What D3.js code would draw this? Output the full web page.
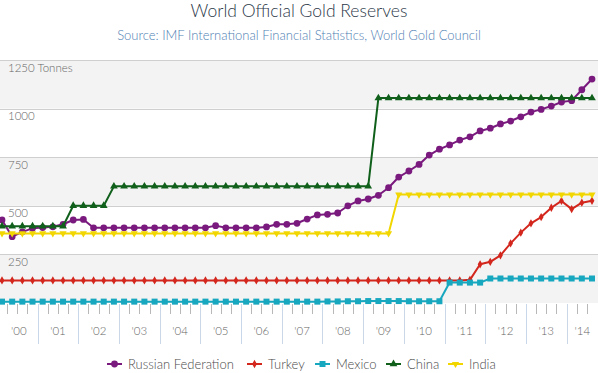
<!DOCTYPE html>
<head>
<meta charset="utf-8">
<title>World Official Gold Reserves</title>
<script src="https://d3js.org/d3.v7.min.js"></script>
<style>
  body { margin: 0; background: #fff; }
  text { font-family: Lato, "Open Sans", sans-serif; font-weight: 300; }
</style>
</head>
<body>
<div id="chart"></div>
<script>

// quarterly values, 2000 Q1 .. 2014 Q3 (tonnes)
var years = ["'00","'01","'02","'03","'04","'05","'06","'07","'08","'09","'10","'11","'12","'13","'14"];
var yTicks = [250, 500, 750, 1000, 1250];

var russia = [427, 341, 366, 384, 388, 392, 405, 427, 430, 387,
              387, 387, 387, 387, 387, 387, 387, 387, 387, 387,
              387, 398, 387, 387, 387, 387, 391, 405, 405, 410,
              432, 453, 456, 463, 500, 525, 535, 554, 593, 648,
              679, 713, 761, 791, 813, 838, 855, 885, 899, 921,
              936, 958, 982, 996, 1013, 1034, 1041, 1097, 1152];
var turkey = [116, 116, 116, 116, 116, 116, 116, 116, 116, 116,
              116, 116, 116, 116, 116, 116, 116, 116, 116, 116,
              116, 116, 116, 116, 116, 116, 116, 116, 116, 116,
              116, 116, 116, 116, 116, 116, 116, 116, 116, 116,
              116, 116, 116, 116, 116, 116, 119, 199, 212, 245,
              307, 362, 410, 442, 490, 525, 483, 516, 526];
var mexico = [7, 7, 7, 7, 7, 7, 7, 7, 7, 7,
              7, 7, 7, 7, 7, 7, 7, 7, 7, 7,
              7, 7, 7, 7, 7, 7, 7, 7, 7, 7,
              7, 7, 8, 8, 9, 9, 10, 10, 10, 10,
              9, 9, 9, 9, 105, 105, 105, 105, 126, 126,
              126, 126, 126, 126, 126, 126, 126, 126, 126];
var china = [395, 395, 395, 395, 395, 395, 395, 500, 500, 500,
             500, 600, 600, 600, 600, 600, 600, 600, 600, 600,
             600, 600, 600, 600, 600, 600, 600, 600, 600, 600,
             600, 600, 600, 600, 600, 600, 600, 1054, 1054, 1054,
             1054, 1054, 1054, 1054, 1054, 1054, 1054, 1054, 1054, 1054,
             1054, 1054, 1054, 1054, 1054, 1054, 1054, 1054, 1054];
var india = [358, 358, 358, 358, 358, 358, 358, 358, 358, 358,
             358, 358, 358, 358, 358, 358, 358, 358, 358, 358,
             358, 358, 358, 358, 358, 358, 358, 358, 358, 358,
             358, 358, 358, 358, 358, 358, 358, 358, 358, 558,
             558, 558, 558, 558, 558, 558, 558, 558, 558, 558,
             558, 558, 558, 558, 558, 558, 558, 558, 558];

var names = ["Russian Federation", "Turkey", "Mexico", "China", "India"];

var series = [
  {name: names[0], values: russia, color: "#7a1a7e", symbol: "circle"},
  {name: names[1], values: turkey, color: "#d3261d", symbol: "diamond"},
  {name: names[2], values: mexico, color: "#17a7bf", symbol: "square"},
  {name: names[3], values: china,  color: "#10601c", symbol: "triangle"},
  {name: names[4], values: india,  color: "#f2d600", symbol: "triangle-down"}
];

var width = 598, height = 373;

var svg = d3.select("#chart").append("svg")
    .attr("width", width)
    .attr("height", height);

var x = d3.scaleLinear().domain([0, 58]).range([2, 592]);
var y = d3.scaleLinear().domain([0, 1250]).range([303, 60]);

// alternating bands
var bands = [[0, 250], [500, 750], [1000, 1250]];
svg.append("g").selectAll("rect")
  .data(bands)
  .enter().append("rect")
    .attr("x", 0)
    .attr("width", width)
    .attr("y", function(d) { return y(d[1]); })
    .attr("height", function(d) { return y(d[0]) - y(d[1]); })
    .style("fill", "#f3f3f3");

// grid lines + labels
svg.append("g").selectAll("line")
  .data(yTicks)
  .enter().append("line")
    .attr("x1", 0).attr("x2", width)
    .attr("y1", function(d) { return Math.round(y(d)) + 0.5; })
    .attr("y2", function(d) { return Math.round(y(d)) + 0.5; })
    .style("stroke", "#cfcfcf")
    .style("stroke-width", 1);

svg.append("g").selectAll("text")
  .data(yTicks)
  .enter().append("text")
    .attr("x", 8)
    .attr("y", function(d) { return y(d) + 11.5; })
    .style("font-size", "11.5px")
    .style("fill", "#666")
    .text(function(d) { return d == 1250 ? "1250 Tonnes" : d; });

// x axis: minor ticks every quarter, major ticks at year boundaries
var minor = d3.range(0, 58).map(function(i) { return i + 0.5; })
  .filter(function(v) { return (v - 3.5) % 4 != 0; });
var major = d3.range(0, 14).map(function(k) { return 3.5 + 4 * k; });

svg.append("g").selectAll("line")
  .data(minor)
  .enter().append("line")
    .attr("x1", function(d) { return Math.round(x(d)) + 0.5; })
    .attr("x2", function(d) { return Math.round(x(d)) + 0.5; })
    .attr("y1", 304).attr("y2", 314)
    .style("stroke", "#b8b8b8");

svg.append("g").selectAll("line")
  .data(major)
  .enter().append("line")
    .attr("x1", function(d) { return Math.round(x(d)) + 0.5; })
    .attr("x2", function(d) { return Math.round(x(d)) + 0.5; })
    .attr("y1", 304).attr("y2", 344)
    .style("stroke", "#c9d7e8");

svg.append("g").selectAll("text")
  .data(years)
  .enter().append("text")
    .attr("x", function(d, k) {
      var a = Math.max(0, x(4 * k - 0.5)), b = Math.min(width, x(4 * k + 3.5));
      return (a + b) / 2;
    })
    .attr("y", 335)
    .attr("text-anchor", "middle")
    .style("font-size", "11.5px")
    .style("fill", "#666")
    .text(function(d) { return d; });

// lines and markers
var line = d3.line()
  .x(function(d, i) { return x(i); })
  .y(function(d) { return y(d); });

var symbolFor = {
  "circle": d3.symbol().type(d3.symbolCircle).size(36),
  "diamond": d3.symbol().type(d3.symbolDiamond).size(20),
  "square": d3.symbol().type(d3.symbolSquare).size(36),
  "triangle": d3.symbol().type(d3.symbolTriangle).size(26),
  "triangle-down": d3.symbol().type(d3.symbolTriangle).size(22)
};

series.forEach(function(s) {
  var g = svg.append("g");
  g.append("path")
    .attr("d", line(s.values))
    .style("fill", "none")
    .style("stroke", s.color)
    .style("stroke-width", 2)
    .style("stroke-linejoin", "round");
  g.selectAll("path.m")
    .data(s.values)
    .enter().append("path")
      .attr("class", "m")
      .attr("d", symbolFor[s.symbol])
      .attr("transform", function(d, i) {
        return "translate(" + x(i) + "," + y(d) + ")" + (s.symbol == "triangle-down" ? " rotate(180)" : "");
      })
      .style("fill", s.color);
});

// title
svg.append("text")
  .attr("x", width / 2)
  .attr("y", 17)
  .attr("text-anchor", "middle")
  .style("font-size", "17.5px")
  .style("fill", "#2c3849")
  .text("World Official Gold Reserves");

svg.append("text")
  .attr("x", width / 2)
  .attr("y", 40)
  .attr("text-anchor", "middle")
  .style("font-size", "13px")
  .style("fill", "#4f80b3")
  .text("Source: IMF International Financial Statistics, World Gold Council");

// legend
var legendX = [107, 247, 315, 386, 448];
var legend = svg.append("g").selectAll("g")
  .data(series)
  .enter().append("g")
    .attr("transform", function(d, i) { return "translate(" + legendX[i] + ",364)"; });

legend.append("line")
  .attr("x1", 0).attr("x2", 15)
  .attr("y1", 0).attr("y2", 0)
  .style("stroke", function(d) { return d.color; })
  .style("stroke-width", 2);

legend.append("path")
  .attr("d", function(d) { return symbolFor[d.symbol](); })
  .attr("transform", function(d) { return "translate(7.5,0)" + (d.symbol == "triangle-down" ? " rotate(180)" : ""); })
  .style("fill", function(d) { return d.color; });

legend.append("text")
  .attr("x", 21)
  .attr("y", 4.5)
  .style("font-size", "13px")
  .style("fill", "#4a4a4a")
  .text(function(d) { return d.name; });

</script>
</body>
